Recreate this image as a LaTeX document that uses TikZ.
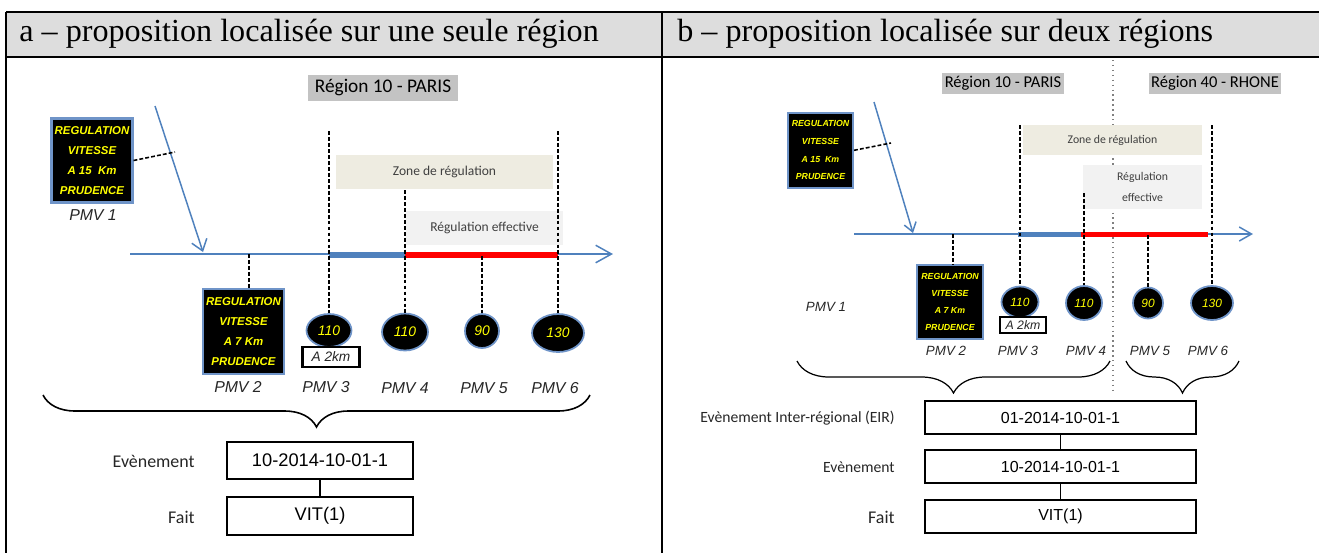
\documentclass[tikz,border=0pt]{standalone}
\usepackage{fontspec}
\setmainfont{Liberation Serif}
\newfontfamily\arialfont{Liberation Sans}
\newfontfamily\calibrifont{Carlito}
\usetikzlibrary{arrows.meta, shapes.geometric, decorations.pathreplacing}

\definecolor{gristete}{HTML}{DDDDDD}
\definecolor{grisregion}{HTML}{C3C3C3}
\definecolor{beigezone}{HTML}{EEECE1}
\definecolor{grisclair}{HTML}{F2F2F2}
\definecolor{bleuaxe}{HTML}{4F81BD}
\definecolor{bordpmv}{HTML}{6F94C8}
\definecolor{jaune}{HTML}{FFFF00}

\tikzset{
  titre/.style={anchor=west, inner sep=0pt, font=\fontsize{18.3}{20}\selectfont},
  region/.style={fill=grisregion, inner sep=0pt, font=\calibrifont\fontsize{11}{12}\selectfont},
  zone/.style={fill=beigezone, inner sep=0pt, text=black!75, font=\calibrifont\fontsize{7.7}{9}\selectfont},
  effectif/.style={fill=grisclair, inner sep=0pt, align=center, text=black!75, font=\calibrifont\fontsize{7.7}{9}\selectfont},
  axe/.style={bleuaxe, line width=0.85pt, -{Straight Barb[length=9pt,width=10pt]}},
  fleche/.style={bleuaxe, line width=0.85pt, -{Straight Barb[length=6pt,width=9pt]}},
  tiret/.style={line width=1.1pt, dash pattern=on 2.2pt off 1.2pt},
  pmv/.style={draw=bordpmv, line width=1.2pt, fill=black, text=jaune, align=center, inner sep=0pt,
    font=\arialfont\bfseries\itshape\fontsize{6.5}{11.3}\selectfont},
  rond/.style={ellipse, draw=bordpmv, line width=1pt, fill=black, text=jaune, inner sep=0pt,
    font=\arialfont\itshape\fontsize{7.9}{9}\selectfont},
  nom/.style={inner sep=0pt, text=black!85, font=\arialfont\itshape\fontsize{9}{10}\selectfont},
  kmbox/.style={draw, fill=white, line width=1.2pt, inner sep=0pt, text=black!85,
    font=\arialfont\itshape\fontsize{7.8}{9}\selectfont},
  ident/.style={draw, line width=1.6pt, inner sep=0pt, font=\arialfont\fontsize{10.4}{12}\selectfont},
  etiq/.style={anchor=east, inner sep=0pt, text=black!85, font=\calibrifont\fontsize{10.2}{12}\selectfont},
  lien/.style={line width=1.6pt},
  accolade/.style={decorate, decoration={brace, mirror, amplitude=#1}, line width=0.9pt},
  frontiere/.style={gray, line width=0.8pt, dotted},
}

\begin{document}
\begin{tikzpicture}[x=0.02cm, y=-0.02cm]
\useasboundingbox (0,0) rectangle (1319,552);

% 1. tableau et titres
\fill[gristete] (6,12) rectangle (1330,57);
\draw[line width=1.2pt] (6,12) -- (1330,12) (6,57) -- (1330,57)
  (6,12) -- (6,560) (662,12) -- (662,560);
\node[titre] (ta) at (19,34) {a – proposition localisée sur une seule région};
\node[titre] (tb) at (677,34) {b – proposition localisée sur deux régions};

% 2. panneau a : region, zones, axe
\node[region, minimum width=3.0cm, minimum height=0.52cm] (ra) at (383,88) {Région 10 - PARIS};
\node[zone, minimum width=4.34cm, minimum height=0.68cm] (za) at (444.5,172) {Zone de régulation};
\node[effectif, minimum width=3.14cm, minimum height=0.68cm] (ea) at (484.5,228) {Régulation effective};
\coordinate (a0) at (130,254);
\coordinate (a1) at (613,254);
\draw[axe] (a0) -- (a1);
\coordinate (b0) at (329,255);
\coordinate (b1) at (405,255);
\coordinate (b2) at (558,255);
\draw[bleuaxe, line width=3.4pt] (b0) -- (b1);
\draw[red, line width=3.4pt] (b1) -- (b2);

% 3. panneau a : PMV
\node[pmv, minimum width=1.62cm, minimum height=1.68cm] (s1) at (92,160.5) {REGULATION\\VITESSE\\A 15~~Km\\PRUDENCE};
\node[nom] (n1) at (93,215) {PMV 1};
\coordinate (f0) at (155,106);
\coordinate (f1) at (203,252);
\draw[fleche] (f0) -- (f1);
\coordinate (k1) at (175,152);
\draw[tiret, line width=0.9pt] (s1.east) -- (k1);

\node[pmv, minimum width=1.62cm, minimum height=1.70cm] (s2) at (243.5,331.5) {REGULATION\\VITESSE\\A 7 Km\\PRUDENCE};
\node[rond, minimum width=0.9cm, minimum height=0.66cm] (c3) at (329,330.5) {110};
\node[rond, minimum width=0.92cm, minimum height=0.74cm] (c4) at (405,332) {110};
\node[rond, minimum width=0.68cm, minimum height=0.68cm] (c5) at (482,331) {90};
\node[rond, minimum width=1.04cm, minimum height=0.76cm] (c6) at (558,333) {130};
\node[kmbox, minimum width=1.14cm, minimum height=0.4cm] (d3) at (331,357) {A 2km};

\coordinate (h2) at (249,254);
\coordinate (h3) at (329,131);
\coordinate (h4) at (405,190);
\coordinate (h5) at (482,256);
\coordinate (h6) at (558,131);
\draw[tiret] (h2) -- (h2 |- s2.north);
\draw[tiret] (h3) -- (c3);
\draw[tiret] (h4) -- (c4);
\draw[tiret] (h5) -- (c5);
\draw[tiret] (h6) -- (c6);

\node[nom] (n2) at (238,387) {PMV 2};
\node[nom] (n3) at (326,387) {PMV 3};
\node[nom] (n4) at (405,388) {PMV 4};
\node[nom] (n5) at (484,388) {PMV 5};
\node[nom] (n6) at (555,388) {PMV 6};

% 4. panneau a : accolade et identifiants
\coordinate (g0) at (43,395);
\coordinate (g1) at (590,395);
\draw[accolade=0.64cm] (g0) -- (g1);
\node[ident, minimum width=3.72cm, minimum height=0.74cm] (ev) at (320,460.5) {10-2014-10-01-1};
\node[ident, minimum width=3.72cm, minimum height=0.76cm] (fa) at (320,516) {VIT(1)};
\draw[lien] (ev) -- (fa);
\node[etiq] (lev) at (195,461) {Evènement};
\node[etiq] (lfa) at (195,517) {Fait};

% 5. panneau b : regions, zones, axe
\coordinate (fr0) at (1113,60);
\coordinate (fr1) at (1113,392);
\draw[frontiere] (fr0) -- (fr1);
\node[region, minimum width=2.44cm, minimum height=0.42cm, font=\calibrifont\fontsize{9.4}{10}\selectfont] (rb1) at (1003,83.5) {Région 10 - PARIS};
\node[region, minimum width=2.64cm, minimum height=0.42cm, font=\calibrifont\fontsize{9.4}{10}\selectfont] (rb2) at (1215,83.5) {Région 40 - RHONE};
\node[zone, minimum width=3.58cm, minimum height=0.6cm, font=\calibrifont\fontsize{6.7}{8}\selectfont] (zb) at (1112.5,140) {Zone de régulation};
\node[effectif, minimum width=2.38cm, minimum height=0.88cm, font=\calibrifont\fontsize{6.7}{12}\selectfont] (eb) at (1142.5,187) {Régulation\\effective};
\coordinate (a2) at (854,234);
\coordinate (a3) at (1253,234);
\draw[axe, -{Straight Barb[length=7pt,width=8pt]}] (a2) -- (a3);
\coordinate (b3) at (1018,234.5);
\coordinate (b4) at (1081,234.5);
\coordinate (b5) at (1208,234.5);
\draw[bleuaxe, line width=2.6pt] (b3) -- (b4);
\draw[red, line width=2.6pt] (b4) -- (b5);

% 6. panneau b : PMV
\node[pmv, minimum width=1.3cm, minimum height=1.5cm, font=\arialfont\bfseries\itshape\fontsize{5}{10}\selectfont] (t1) at (820.5,150.3) {REGULATION\\VITESSE\\A 15~~Km\\PRUDENCE};
\node[nom, font=\arialfont\itshape\fontsize{7.6}{9}\selectfont] (m1) at (826,307) {PMV 1};
\coordinate (f2) at (874,102);
\coordinate (f3) at (913,233);
\draw[fleche, -{Straight Barb[length=5pt,width=7pt]}] (f2) -- (f3);
\coordinate (k2) at (891,143);
\draw[tiret, line width=0.9pt] (t1.east) -- (k2);

\node[pmv, minimum width=1.32cm, minimum height=1.48cm, font=\arialfont\bfseries\itshape\fontsize{5}{9.6}\selectfont] (t2) at (950,302) {REGULATION\\VITESSE\\A 7 Km\\PRUDENCE};
\node[rond, minimum width=0.74cm, minimum height=0.62cm, font=\arialfont\itshape\fontsize{6.8}{8}\selectfont] (e3) at (1020,302) {110};
\node[rond, minimum width=0.72cm, minimum height=0.68cm, font=\arialfont\itshape\fontsize{6.8}{8}\selectfont] (e4) at (1084,303) {110};
\node[rond, minimum width=0.6cm, minimum height=0.62cm, font=\arialfont\itshape\fontsize{6.8}{8}\selectfont] (e5) at (1148,303) {90};
\node[rond, minimum width=0.84cm, minimum height=0.68cm, font=\arialfont\itshape\fontsize{6.8}{8}\selectfont] (e6) at (1212,303) {130};
\node[kmbox, minimum width=0.92cm, minimum height=0.32cm, line width=0.9pt, font=\arialfont\itshape\fontsize{7}{8}\selectfont] (d4) at (1023,325) {A 2km};

\coordinate (h7) at (953,234);
\coordinate (h8) at (1020,125);
\coordinate (h9) at (1084,193);
\coordinate (h10) at (1148,235);
\coordinate (h11) at (1212,125);
\draw[tiret, line width=0.9pt] (h7) -- (h7 |- t2.north);
\draw[tiret, line width=0.9pt] (h8) -- (e3);
\draw[tiret, line width=0.9pt] (h9) -- (e4);
\draw[tiret, line width=0.9pt] (h10) -- (e5);
\draw[tiret, line width=0.9pt] (h11) -- (e6);

\node[nom, font=\arialfont\itshape\fontsize{7.6}{9}\selectfont] (m2) at (946,351) {PMV 2};
\node[nom, font=\arialfont\itshape\fontsize{7.6}{9}\selectfont] (m3) at (1018,351) {PMV 3};
\node[nom, font=\arialfont\itshape\fontsize{7.6}{9}\selectfont] (m4) at (1086,351) {PMV 4};
\node[nom, font=\arialfont\itshape\fontsize{7.6}{9}\selectfont] (m5) at (1150,351) {PMV 5};
\node[nom, font=\arialfont\itshape\fontsize{7.6}{9}\selectfont] (m6) at (1208,351) {PMV 6};

% 7. panneau b : accolades et identifiants
\coordinate (g2) at (797,361);
\coordinate (g3) at (1110,361);
\coordinate (g4) at (1126,361);
\coordinate (g5) at (1239,361);
\draw[accolade=0.64cm, line width=0.7pt] (g2) -- (g3);
\draw[accolade=0.64cm, line width=0.7pt] (g4) -- (g5);
\node[ident, minimum width=5.42cm, minimum height=0.66cm, line width=0.9pt, font=\arialfont\fontsize{9.1}{11}\selectfont] (eir) at (1060.5,417.5) {01-2014-10-01-1};
\node[ident, minimum width=5.42cm, minimum height=0.66cm, line width=0.9pt, font=\arialfont\fontsize{9.1}{11}\selectfont] (ev2) at (1060.5,466.5) {10-2014-10-01-1};
\node[ident, minimum width=5.42cm, minimum height=0.66cm, line width=0.9pt, font=\arialfont\fontsize{9.1}{11}\selectfont] (fa2) at (1060.5,516.5) {VIT(1)};
\draw[line width=0.8pt] (eir) -- (ev2);
\draw[line width=0.8pt] (ev2) -- (fa2);
\node[etiq, font=\calibrifont\fontsize{8.9}{10}\selectfont] (leir) at (895,418) {Evènement Inter-régional (EIR)};
\node[etiq, font=\calibrifont\fontsize{8.9}{10}\selectfont] (lev2) at (895,467) {Evènement};
\node[etiq] (lfa2) at (895,517) {Fait};
\end{tikzpicture}
\end{document}
